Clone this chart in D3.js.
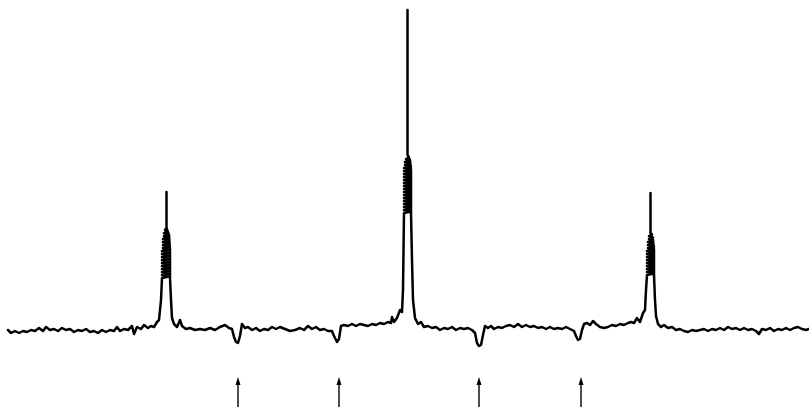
<!DOCTYPE html>
<html>
<head>
<meta charset="utf-8">
<script src="https://cdn.jsdelivr.net/npm/d3@7"></script>
<style>
  html, body { margin: 0; padding: 0; background: #fff; }
  svg { display: block; }
</style>
</head>
<body>
<div id="chart"></div>
<script>
// trace: [channel, signal]
const leftWing = [
  [8,0],[11,-3],[15,-1],[19,-3],[23,-1],[27,-2],[31,0],[35,-1],[39,2],[43,-1],[46,3],[50,0],
  [54,1],[58,-1],[62,2],[66,0],[70,1],[74,-2],[78,0],[82,-1],[86,1],[90,-2],[94,-1],[98,-3],
  [102,0],[106,-2],[110,0],[114,-1],[117,3],[120,-1],[124,1],[128,0],[132,4],[134,-4],[137,3],
  [141,1],[144,5],[148,2],[151,4],[154,3],[157,8],[159,10]
];
// pen chatter makes the solid band on each peak
const peak1 = [
  [161,30],[162,52],[169,53.5],[162,55],[169,56.5],[162,58],[169,59.5],[162,61],[169,62.5],
  [162,64],[169,65.5],[162,67],[169,68.5],[162,70],[169,71.5],[162,73],[169,74.5],[162,76],
  [169,77.5],[162,79],[169,80.5],[163,82],[169,83.5],[163,85],[169,86.5],[163,88],[169,89.5],
  [163,91],[168,92.5],[164,94],[168,95.5],[164,97],[167,98.5],[165,100],[166.5,102],[166.5,138],
  [166.5,102],[169,95],[170,80],[170,52],[171,30],[172,12],[174,6],[177,3],[180,10],[182,4],
  [186,1],[190,2],[195,0]
];
const gap1 = [
  [200,1],[205,0],[210,2],[215,0],[220,3],[225,5],[229,2],[232,1],[234,-7],[236,-12],[238,-13],
  [240,-6],[242,6],[245,2],[248,3],[252,0],[256,2],[260,-1],[264,1],[268,0],[272,3],[276,1],
  [280,3],[285,1],[290,-1],[295,0],[300,2],[304,0],[308,4],[312,1],[316,3],[320,0],[324,1],
  [328,-1],[332,-1],[334,-6],[337,-12],[339,-9],[341,4],[344,5],[348,4],[352,6],[356,4],[360,6],
  [364,5],[368,4],[372,6],[376,5],[380,7],[384,6],[388,8],[391,7],[392,13],[394,8],[397,12],
  [400,20],[402,18]
];
const peak2 = [
  [403,40],[404,117],[411,118.5],[404,120],[411,121.5],[404,123],[411,124.5],[404,126],
  [411,127.5],[404,129],[411,130.5],[404,132],[411,133.5],[404,135],[411,136.5],[404,138],
  [411,139.5],[404,141],[411,142.5],[404,144],[411,145.5],[404,147],[411,148.5],[404,150],
  [411,151.5],[404,153],[411,154.5],[404,156],[411,157.5],[404,159],[411,160.5],[404,162],
  [411,163.5],[405,165],[410,166.5],[405,168],[410,169.5],[406,171],[409,172.5],[407.5,175],
  [407.5,320],[407.5,175],[410,170],[411,160],[411,117],[412,70],[413,30],[415,12],[418,6],
  [421,8],[424,3],[428,4],[432,2],[436,3]
];
const gap2 = [
  [440,0],[444,2],[448,1],[452,3],[456,0],[460,2],[464,1],[468,2],[472,0],[475,-3],[477,-13],
  [479,-16],[481,-15],[483,-5],[485,4],[488,2],[491,4],[494,1],[498,3],[502,2],[506,4],[510,5],
  [514,3],[518,6],[522,3],[526,5],[530,3],[534,4],[538,2],[542,3],[546,1],[550,3],[554,1],
  [558,2],[562,1],[566,3],[570,1],[574,-1],[576,-6],[578,-10],[580,-9],[582,0],[584,6],[587,7],
  [590,5],[593,9],[596,6],[600,3],[604,2],[608,3],[612,5],[616,4],[620,6],[624,5],[628,7],
  [631,8],[634,7],[637,12],[640,8],[643,17],[645,20]
];
const peak3 = [
  [646,40],[647,55],[654,56.5],[647,58],[654,59.5],[647,61],[654,62.5],[647,64],[654,65.5],
  [647,67],[654,68.5],[647,70],[654,71.5],[647,73],[654,74.5],[647,76],[654,77.5],[647,79],
  [654,80.5],[648,82],[654,83.5],[648,85],[653,86.5],[648,88],[653,89.5],[649,91],[653,92.5],
  [649,94],[652,95.5],[650.5,97],[650.5,137],[650.5,97],[653,90],[654,80],[654,55],[655,30],
  [656,14],[658,6],[661,3],[664,5],[668,2],[672,3],[676,0],[680,1],[684,-1]
];
const rightWing = [
  [688,-2],[692,0],[696,-1],[700,0],[704,1],[708,-1],[712,1],[716,0],[720,2],[724,0],[728,3],
  [732,1],[736,2],[740,0],[744,2],[748,0],[752,1],[756,-1],[759,-4],[762,1],[766,0],[770,2],
  [774,-1],[778,1],[782,0],[786,2],[790,0],[794,2],[798,3],[802,1],[806,0],[809,1]
];
// arrows under the weak dips
const arrowChannels = [238, 339, 479, 581];
const arrowSpan = [-47, -80];

const trace = [].concat(leftWing, peak1, gap1, peak2, gap2, peak3, rightWing);

const width = 809, height = 407;

const svg = d3.select('#chart')
  .append('svg')
  .attr('width', width)
  .attr('height', height)
  .style('background', '#fff');

const x = d3.scaleLinear().domain([0, 809]).range([0, 809]);
const y = d3.scaleLinear().domain([0, 320]).range([330, 10]);

const line = d3.line()
  .x(d => x(d[0]))
  .y(d => y(d[1]));

svg.append('path')
  .datum(trace)
  .attr('d', line)
  .attr('fill', 'none')
  .attr('stroke', '#000')
  .attr('stroke-width', 2.5)
  .attr('stroke-linejoin', 'round')
  .attr('stroke-linecap', 'round');

// arrows
const arrows = svg.selectAll('.arrow')
  .data(arrowChannels)
  .enter()
  .append('g')
  .attr('class', 'arrow');

arrows.append('line')
  .attr('x1', d => x(d))
  .attr('x2', d => x(d))
  .attr('y1', y(arrowSpan[0]) + 4)
  .attr('y2', y(arrowSpan[1]))
  .attr('stroke', '#000')
  .attr('stroke-width', 1.4);

arrows.append('path')
  .attr('d', d => {
    const cx = x(d), top = y(arrowSpan[0]);
    return `M${cx},${top} L${cx - 2.5},${top + 8} L${cx + 2.5},${top + 8} Z`;
  })
  .attr('fill', '#000');
</script>
</body>
</html>
